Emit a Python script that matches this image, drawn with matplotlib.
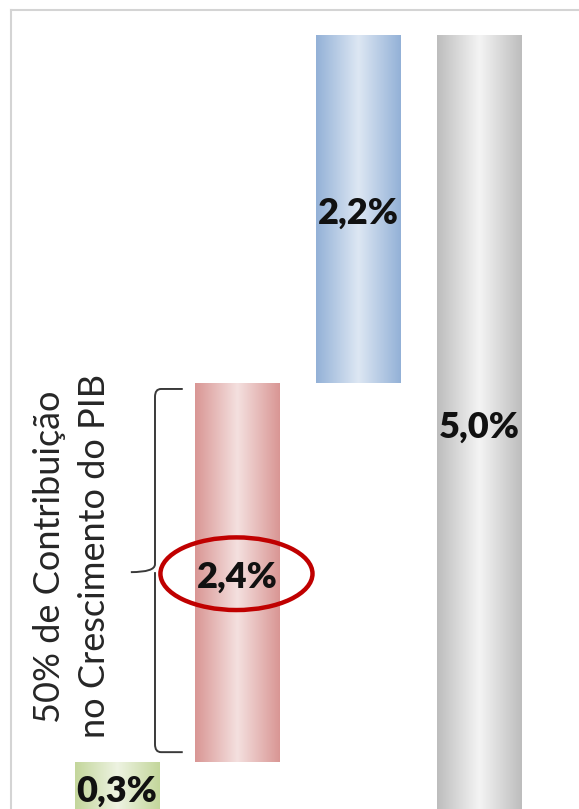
import numpy as np
import matplotlib.pyplot as plt
from matplotlib.colors import LinearSegmentedColormap
from matplotlib.patches import Ellipse, PathPatch
from matplotlib.path import Path

values = [0.3, 2.4, 2.2, 5.0]
labels = ["0,3%", "2,4%", "2,2%", "5,0%"]
edge_colors = ["#c3d69b", "#d99694", "#93b1d7", "#bdbdbd"]
mid_colors = ["#eef3e2", "#f4e0df", "#dde7f3", "#f4f4f4"]
note = "50% de Contribuição\nno Crescimento do PIB"

# waterfall: the parts hang down from the total, the total bar stands on zero
total = values[-1]
bottoms = []
level = total
for v in reversed(values[:-1]):
    level -= v
    bottoms.insert(0, level)
bottoms.append(0.0)

x = np.arange(len(values))
width = 0.7

fig = plt.figure(figsize=(5.79, 8.09), dpi=100)
ax = fig.add_axes([11 / 579, 0, 1 - 11 / 579, 799 / 809])

bars = ax.bar(x, values, bottom=bottoms, width=width, color="none",
              edgecolor="none", zorder=2)

grad = np.linspace(0, 1, 256)[None, :]
for i, bar in enumerate(bars):
    cmap = LinearSegmentedColormap.from_list(
        "cyl", [(0, edge_colors[i]), (0.5, mid_colors[i]), (1, edge_colors[i])])
    x0 = bar.get_x()
    im = ax.imshow(grad, cmap=cmap, aspect="auto", interpolation="bicubic",
                   extent=[x0, x0 + width, bottoms[i], bottoms[i] + values[i]],
                   zorder=2)
    im.set_clip_path(bar)

ax.set_xlim(-0.878, 3.828)
ax.set_ylim(0.1, 5.16)

# value labels in the middle of the visible part of each bar
ylo, yhi = ax.get_ylim()
for i, bar in enumerate(bars):
    lo = max(bottoms[i], ylo)
    hi = min(bottoms[i] + values[i], yhi)
    yc = (lo + hi) / 2 - 0.03
    if i == 0:
        yc = bottoms[i] + values[i] / 2 - 0.04
    ax.text(x[i], yc, labels[i], ha="center", va="center", fontsize=26,
            fontweight="heavy", family="Lato", color="#111111", zorder=4)

# red ring around the 2,4% label
ring_y = bottoms[1] + values[1] / 2
ax.add_patch(Ellipse((x[1] - 0.01, ring_y - 0.01), 1.26, 0.46, fill=False,
                     edgecolor="#c00000", linewidth=3.2, zorder=5))

# curly brace spanning the 2,4% bar
r_lo = bottoms[1] + 0.06
r_hi = bottoms[1] + values[1] - 0.04
bx = x[1] - width / 2 - 0.335
arm = 0.23
c = 0.05
mid = ring_y
verts = [
    (bx + arm, r_hi), (bx + c, r_hi), (bx, r_hi), (bx, r_hi - c),
    (bx, mid + c), (bx, mid), (bx - 0.2, mid),
    (bx, mid), (bx, mid - c),
    (bx, r_lo + c), (bx, r_lo), (bx + c, r_lo), (bx + arm, r_lo),
]
codes = [Path.MOVETO, Path.LINETO, Path.CURVE3, Path.CURVE3,
         Path.LINETO, Path.CURVE3, Path.CURVE3,
         Path.MOVETO, Path.LINETO,
         Path.LINETO, Path.CURVE3, Path.CURVE3, Path.LINETO]
ax.add_patch(PathPatch(Path(verts, codes), fill=False, edgecolor="#3a3a3a",
                       linewidth=1.4, zorder=3))

ax.text(bx - 0.69, mid + 0.1, note, rotation=90, ha="center", va="center",
        multialignment="center", fontsize=26, family="Lato", color="#262626",
        linespacing=1.45)

ax.set_xticks([])
ax.set_yticks([])
for side in ["right", "bottom"]:
    ax.spines[side].set_visible(False)
for side in ["top", "left"]:
    ax.spines[side].set_color("#d4d4d4")
    ax.spines[side].set_linewidth(1.5)

fig.savefig("out.png", dpi=100)
